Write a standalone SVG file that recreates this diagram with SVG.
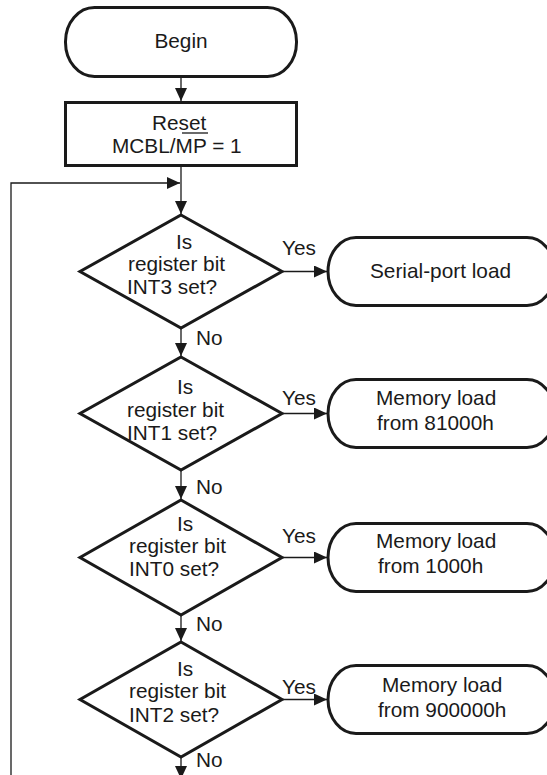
<svg xmlns="http://www.w3.org/2000/svg" width="547" height="775" viewBox="0 0 547 775">
<style>
.sh{fill:#fff;stroke:#1a1a1a;stroke-width:3}
.cn{fill:none;stroke:#1a1a1a;stroke-width:1.3}
text{font-family:"Liberation Sans",Arial,sans-serif;font-size:20.8px;fill:#1a1a1a}
.c{text-anchor:middle}
</style>
<defs>
<marker id="ah" markerUnits="userSpaceOnUse" markerWidth="14" markerHeight="12" viewBox="0 0 14 12" refX="13" refY="6" orient="auto">
<path d="M0,0 L13,6 L0,12 Z" fill="#1a1a1a"/>
</marker>
</defs>
<rect width="547" height="775" fill="#fff"/>
<g id="connectors">
<line class="cn" x1="181" y1="77" x2="181" y2="101" marker-end="url(#ah)"/>
<line class="cn" x1="181" y1="167" x2="181" y2="214" marker-end="url(#ah)"/>
<polyline class="cn" points="11,775 11,183 180,183" marker-end="url(#ah)"/>
<line class="cn" x1="181" y1="329" x2="181" y2="356" marker-end="url(#ah)"/>
<line class="cn" x1="181" y1="471" x2="181" y2="499" marker-end="url(#ah)"/>
<line class="cn" x1="181" y1="616" x2="181" y2="641" marker-end="url(#ah)"/>
<line class="cn" x1="181" y1="758" x2="181" y2="779" marker-end="url(#ah)"/>
<line class="cn" x1="283" y1="271.5" x2="327" y2="271.5" marker-end="url(#ah)"/>
<line class="cn" x1="283" y1="413.5" x2="327" y2="413.5" marker-end="url(#ah)"/>
<line class="cn" x1="283" y1="557.5" x2="327" y2="557.5" marker-end="url(#ah)"/>
<line class="cn" x1="283" y1="699.5" x2="327" y2="699.5" marker-end="url(#ah)"/>
<text x="282" y="255">Yes</text>
<text x="282" y="405">Yes</text>
<text x="282" y="543">Yes</text>
<text x="282" y="694">Yes</text>
<text x="196" y="345">No</text>
<text x="196" y="494">No</text>
<text x="196" y="631">No</text>
<text x="196" y="767">No</text>
</g>
<g id="begin">
<rect class="sh" x="65.5" y="7.5" width="231" height="69" rx="29" ry="34"/>
<text class="c" x="181" y="48">Begin</text>
</g>
<g id="reset">
<rect class="sh" x="65.5" y="102.5" width="231" height="63"/>
<text x="152" y="130">Reset</text>
<line x1="182" y1="133" x2="208" y2="133" stroke="#1a1a1a" stroke-width="1.3"/>
<text x="112" y="153">MCBL/MP = 1</text>
</g>
<g id="d1">
<polygon class="sh" points="181,215 282,271.5 181,328 80,271.5"/>
<text x="176" y="249">Is</text>
<text x="128" y="271">register bit</text>
<text x="127" y="294">INT3 set?</text>
</g>
<g id="t1">
<rect class="sh" x="328" y="237.5" width="227" height="68" rx="28" ry="34"/>
<text x="370" y="278">Serial-port load</text>
</g>
<g id="d2">
<polygon class="sh" points="181,357 282,413.5 181,470 80,413.5"/>
<text x="177" y="394">Is</text>
<text x="127" y="417">register bit</text>
<text x="127" y="440">INT1 set?</text>
</g>
<g id="t2">
<rect class="sh" x="328" y="379.5" width="227" height="68" rx="28" ry="34"/>
<text x="376" y="405">Memory load</text>
<text x="377" y="430">from 81000h</text>
</g>
<g id="d3">
<polygon class="sh" points="181,500 282,557.5 181,615 80,557.5"/>
<text x="177" y="531">Is</text>
<text x="129" y="553">register bit</text>
<text x="129" y="576">INT0 set?</text>
</g>
<g id="t3">
<rect class="sh" x="328" y="523.5" width="227" height="68" rx="28" ry="34"/>
<text x="376" y="548">Memory load</text>
<text x="378" y="573">from 1000h</text>
</g>
<g id="d4">
<polygon class="sh" points="181,642 282,699.5 181,757 80,699.5"/>
<text x="177" y="676">Is</text>
<text x="129" y="698">register bit</text>
<text x="129" y="722">INT2 set?</text>
</g>
<g id="t4">
<rect class="sh" x="328" y="665.5" width="227" height="68" rx="28" ry="34"/>
<text x="382" y="692">Memory load</text>
<text x="378" y="717">from 900000h</text>
</g>
</svg>
